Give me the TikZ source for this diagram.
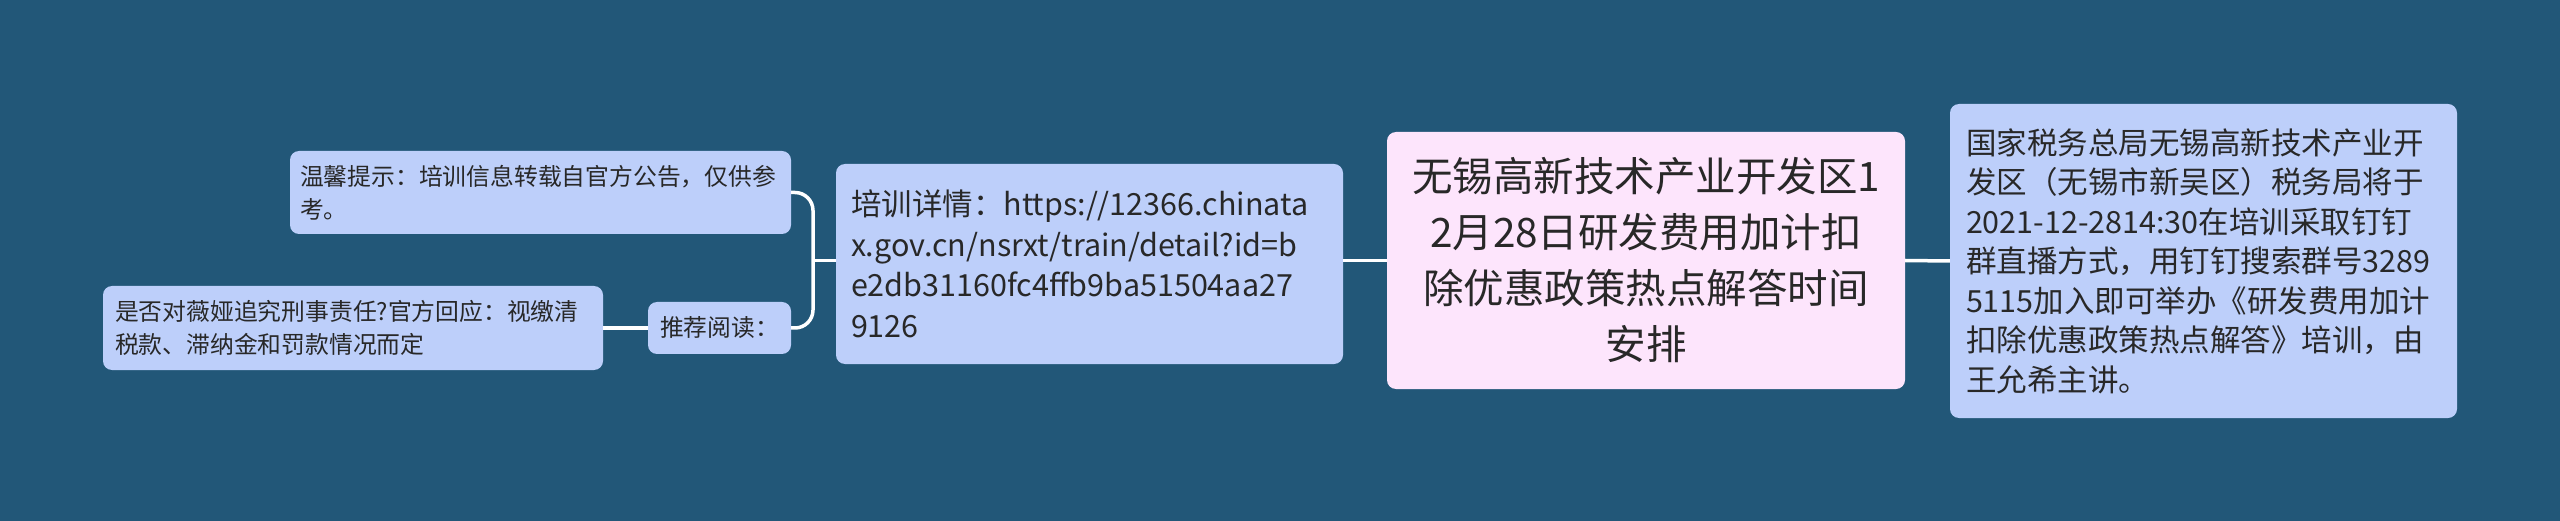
\documentclass[tikz,border=0pt]{standalone}
\usepackage{fontspec}
\setmainfont{Noto Sans CJK SC}
\definecolor{bg}{RGB}{34,87,120}
\definecolor{boxblue}{RGB}{189,207,250}
\definecolor{boxpink}{RGB}{253,229,252}
\definecolor{txt}{RGB}{40,40,40}
\tikzset{
  base/.style={rounded corners=9pt, text=txt, inner ysep=0pt, anchor=center},
  bluebox/.style={base, fill=boxblue},
  pinkbox/.style={base, fill=boxpink},
  conn/.style={draw=white, line width=3.5pt},
}
\begin{document}
\begin{tikzpicture}[x=1pt,y=-1pt]
\useasboundingbox (0,0) rectangle (2560,521);
\fill[bg] (0,0) rectangle (2560,521);

% center
\node[pinkbox, minimum width=518pt, minimum height=257pt, text width=484pt, inner xsep=17pt, align=center,
  font=\fontsize{40.5}{56}\selectfont] (c) at (1646,260.5)
  {无锡高新技术产业开发区1\\2月28日研发费用加计扣\\除优惠政策热点解答时间\\安排};

% right
\node[bluebox, minimum width=507pt, minimum height=314pt, text width=475pt, inner xsep=16pt, align=left,
  font=\fontsize{30.5}{39.5}\selectfont] (r) at (2203.5,261)
  {国家税务总局无锡高新技术产业开\\发区（无锡市新吴区）税务局将于\\2021-12-2814:30在培训采取钉钉\\群直播方式，用钉钉搜索群号3289\\5115加入即可举办《研发费用加计\\扣除优惠政策热点解答》培训，由\\王允希主讲。};

% url
\node[bluebox, minimum width=507pt, minimum height=200pt, text width=477pt, inner xsep=15pt, align=left,
  font=\fontsize{30.5}{40.5}\selectfont] (u) at (1089.5,264)
  {培训详情：https://12366.chinata\\x.gov.cn/nsrxt/train/detail?id=b\\e2db31160fc4ffb9ba51504aa27\\9126};

% tip
\node[bluebox, minimum width=501pt, minimum height=83pt, text width=481pt, inner xsep=10pt, align=left,
  font=\fontsize{23.8}{33}\selectfont] (w) at (540.5,192.5)
  {温馨提示：培训信息转载自官方公告，仅供参\\考。};

% recommend
\node[bluebox, minimum width=143pt, minimum height=52pt, inner xsep=12pt, align=center,
  font=\fontsize{23.8}{33}\selectfont] (t) at (719.5,328)
  {推荐阅读：};

% article
\node[bluebox, minimum width=500pt, minimum height=84pt, text width=476pt, inner xsep=12pt, align=left,
  font=\fontsize{23.8}{33}\selectfont] (s) at (353,328)
  {是否对薇娅追究刑事责任?官方回应：视缴清\\税款、滞纳金和罚款情况而定};

\coordinate (bx) at (813,260.5);
\draw[conn] (c.west) -- (c.west -| u.east);
\draw[conn] (c.east) -- (r.west);
\draw[conn] (u.west |- bx) -- (bx);
\draw[conn, rounded corners=18pt] (w.east) -| (bx) |- (t.east);
\draw[conn] (t.west) -- (s.east);
\end{tikzpicture}
\end{document}
